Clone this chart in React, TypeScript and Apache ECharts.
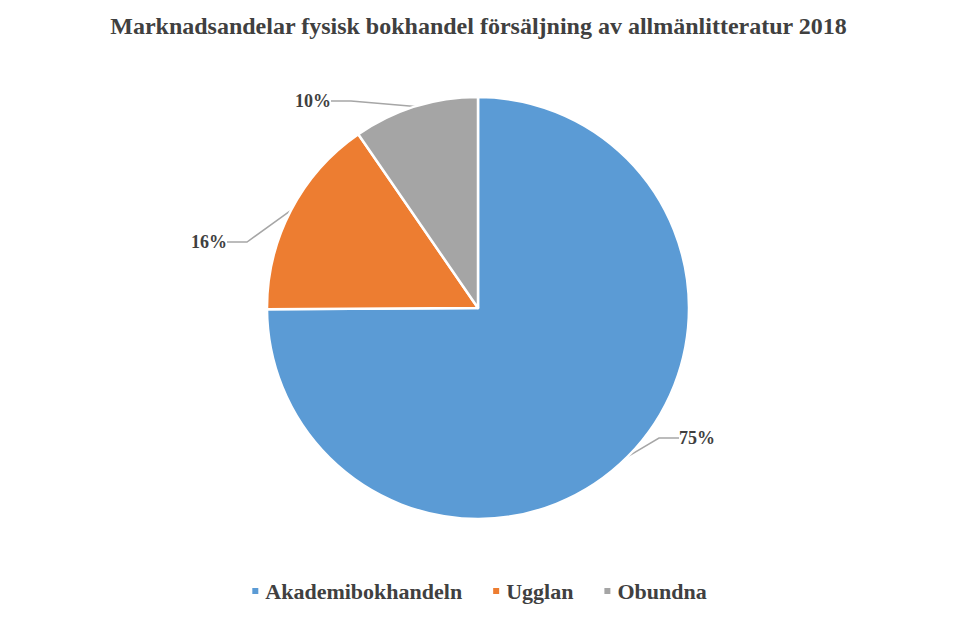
import React, { useEffect, useRef } from "react";
import * as echarts from "echarts";

const categories = ["Akademibokhandeln", "Ugglan", "Obundna"];
const shares = [74.9, 15.5, 9.6];
const colors = ["#5B9BD5", "#ED7D31", "#A5A5A5"];
const titleText = "Marknadsandelar fysisk bokhandel försäljning av allmänlitteratur 2018";

export default function App() {
  const ref = useRef<HTMLDivElement>(null);
  useEffect(() => {
    document.body.style.margin = "0";
    const chart = echarts.init(ref.current!, null, { renderer: "svg" });
    const labelPos = [
      { x: 676, y: 438, align: "left" },
      { x: 230, y: 242, align: "right" },
      { x: 334, y: 101, align: "right" },
    ];
    chart.setOption({
      animation: false,
      backgroundColor: "#ffffff",
      title: {
        text: titleText,
        left: "center",
        top: 9,
        textStyle: {
          fontFamily: "Liberation Serif",
          fontWeight: "bold",
          fontSize: 24,
          color: "#404040",
        },
      },
      legend: {
        data: categories,
        bottom: 10,
        left: "center",
        icon: "rect",
        itemWidth: 8,
        itemHeight: 8,
        itemGap: 29,
        textStyle: {
          fontFamily: "Liberation Serif",
          fontWeight: "bold",
          fontSize: 22,
          color: "#404040",
          padding: [0, 0, 0, 1],
        },
      },
      series: [
        {
          type: "pie",
          center: [478, 308],
          radius: 211,
          startAngle: 90,
          clockwise: true,
          data: categories.map((name, i) => ({
            name,
            value: shares[i],
            itemStyle: { color: colors[i] },
          })),
          itemStyle: { borderColor: "#ffffff", borderWidth: 2.5 },
          label: {
            show: true,
            position: "outside",
            formatter: (p: any) => Math.round(p.value) + "%",
            fontFamily: "Liberation Serif",
            fontWeight: "bold",
            fontSize: 18,
            color: "#404040",
            padding: [0, 3, 0, 3],
          },
          labelLine: {
            show: true,
            length: 10,
            length2: 20,
            lineStyle: { color: "#A6A6A6", width: 1.5 },
          },
          labelLayout: (params: any) => {
            const lp = labelPos[params.dataIndex];
            return { x: lp.x, y: lp.y, align: lp.align, verticalAlign: "middle" };
          },
          emphasis: { disabled: true },
        },
      ],
    });
    return () => chart.dispose();
  }, []);
  return <div ref={ref} style={{ width: 957, height: 617 }} />;
}
